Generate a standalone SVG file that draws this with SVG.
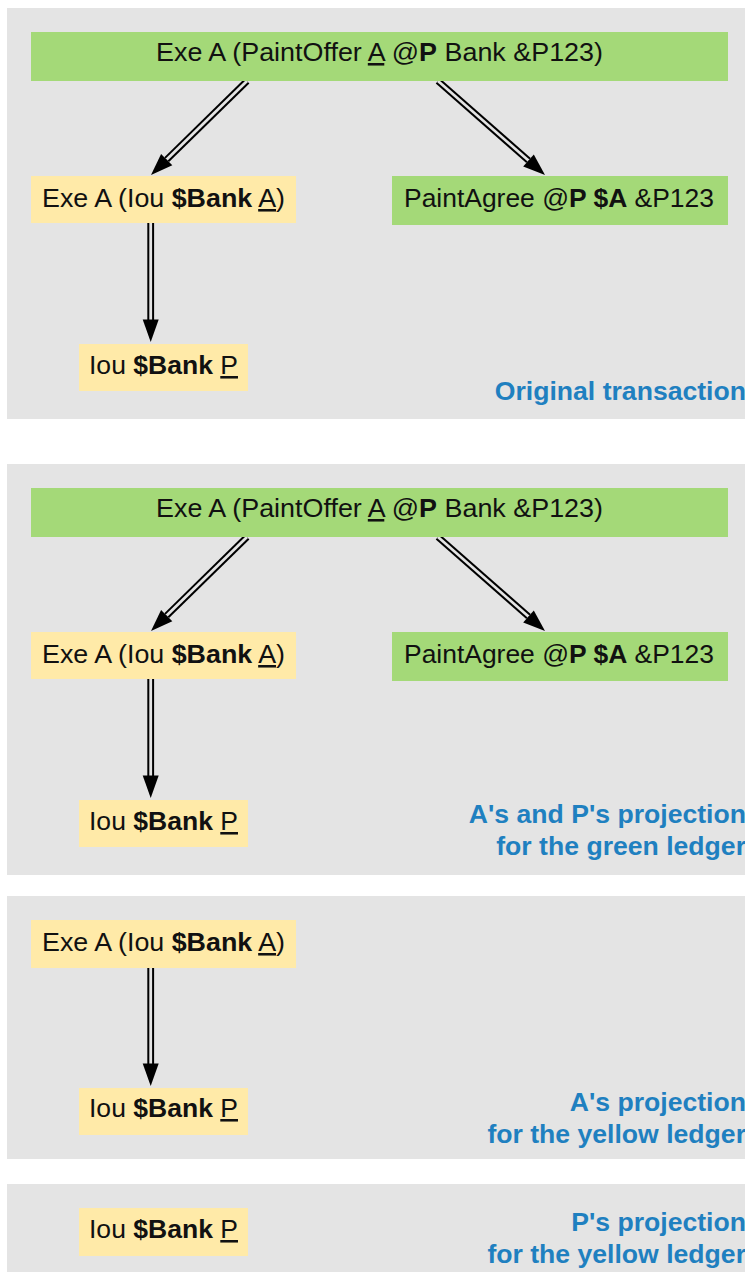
<svg xmlns="http://www.w3.org/2000/svg" width="745" height="1272" viewBox="0 0 745 1272">
<style>
.panel{fill:#e4e4e4}
.g{fill:#a4d978}
.y{fill:#ffeaa8}
.t{font-family:"Liberation Sans",Arial,sans-serif;font-size:25.5px;fill:#111}
.b{font-weight:bold}
.u{text-decoration:underline}
.lbl{font-family:"Liberation Sans",Arial,sans-serif;font-size:26.6px;font-weight:bold;fill:#1f80c0;text-anchor:end}
.o{stroke:#000;stroke-width:6.8;fill:none}
.i{stroke:#e4e4e4;stroke-width:2.8;fill:none}
.h{fill:#000}
</style>
<rect class="panel" x="7" y="8" width="738" height="411"/>
<rect class="panel" x="7" y="464" width="738" height="411"/>
<rect class="panel" x="7" y="896" width="738" height="263"/>
<rect class="panel" x="7" y="1184" width="738" height="88"/>

<g id="connectors">
  <g id="e1"><path class="o" d="M247,81 L166.7,159.6"/><path class="i" d="M247,81 L166.7,159.6"/><polygon class="h" points="151,175 172.3,165.3 161.1,153.9"/></g>
  <g id="e2"><path class="o" d="M438,81 L528.5,160.5"/><path class="i" d="M438,81 L528.5,160.5"/><polygon class="h" points="545,175 523.2,166.5 533.8,154.5"/></g>
  <g id="e3"><path class="o" d="M150.7,223 L150.7,320"/><path class="i" d="M150.7,223 L150.7,320"/><polygon class="h" points="150.7,342 142.7,319.5 158.7,319.5"/></g>
  <g id="e4"><path class="o" d="M247,537 L166.7,615.6"/><path class="i" d="M247,537 L166.7,615.6"/><polygon class="h" points="151,631 172.3,621.3 161.1,609.9"/></g>
  <g id="e5"><path class="o" d="M438,537 L528.5,616.5"/><path class="i" d="M438,537 L528.5,616.5"/><polygon class="h" points="545,631 523.2,622.5 533.8,610.5"/></g>
  <g id="e6"><path class="o" d="M150.7,679 L150.7,776"/><path class="i" d="M150.7,679 L150.7,776"/><polygon class="h" points="150.7,798 142.7,775.5 158.7,775.5"/></g>
  <g id="e7"><path class="o" d="M150.7,968 L150.7,1064"/><path class="i" d="M150.7,968 L150.7,1064"/><polygon class="h" points="150.7,1086 142.7,1063.5 158.7,1063.5"/></g>
</g>

<g id="p1-root"><rect class="g" x="31" y="32" width="697" height="49"/>
<text class="t" x="156" y="61" textLength="447" lengthAdjust="spacingAndGlyphs">Exe A (PaintOffer <tspan class="u">A</tspan> @<tspan class="b">P</tspan> Bank &amp;P123)</text></g>
<g id="p1-exe"><rect class="y" x="31" y="176" width="265" height="47"/>
<text class="t" x="42" y="207" textLength="243" lengthAdjust="spacingAndGlyphs">Exe A (Iou <tspan class="b">$Bank</tspan> <tspan class="u">A</tspan>)</text></g>
<g id="p1-agree"><rect class="g" x="392" y="176" width="336" height="49"/>
<text class="t" x="404" y="207" textLength="310" lengthAdjust="spacingAndGlyphs">PaintAgree @<tspan class="b">P $A</tspan> &amp;P123</text></g>
<g id="p1-iou"><rect class="y" x="79" y="344" width="169" height="47"/>
<text class="t" x="89" y="374" textLength="149" lengthAdjust="spacingAndGlyphs">Iou <tspan class="b">$Bank</tspan> <tspan class="u">P</tspan></text></g>
<text class="lbl" x="746" y="400">Original transaction</text>

<g id="p2-root"><rect class="g" x="31" y="488" width="697" height="49"/>
<text class="t" x="156" y="517" textLength="447" lengthAdjust="spacingAndGlyphs">Exe A (PaintOffer <tspan class="u">A</tspan> @<tspan class="b">P</tspan> Bank &amp;P123)</text></g>
<g id="p2-exe"><rect class="y" x="31" y="632" width="265" height="47"/>
<text class="t" x="42" y="663" textLength="243" lengthAdjust="spacingAndGlyphs">Exe A (Iou <tspan class="b">$Bank</tspan> <tspan class="u">A</tspan>)</text></g>
<g id="p2-agree"><rect class="g" x="392" y="632" width="336" height="49"/>
<text class="t" x="404" y="663" textLength="310" lengthAdjust="spacingAndGlyphs">PaintAgree @<tspan class="b">P $A</tspan> &amp;P123</text></g>
<g id="p2-iou"><rect class="y" x="79" y="800" width="169" height="47"/>
<text class="t" x="89" y="830" textLength="149" lengthAdjust="spacingAndGlyphs">Iou <tspan class="b">$Bank</tspan> <tspan class="u">P</tspan></text></g>
<text class="lbl" x="746" y="823">A's and P's projection</text>
<text class="lbl" x="746" y="855">for the green ledger</text>

<g id="p3-exe"><rect class="y" x="31" y="920" width="265" height="48"/>
<text class="t" x="42" y="951" textLength="243" lengthAdjust="spacingAndGlyphs">Exe A (Iou <tspan class="b">$Bank</tspan> <tspan class="u">A</tspan>)</text></g>
<g id="p3-iou"><rect class="y" x="79" y="1088" width="169" height="47"/>
<text class="t" x="89" y="1117" textLength="149" lengthAdjust="spacingAndGlyphs">Iou <tspan class="b">$Bank</tspan> <tspan class="u">P</tspan></text></g>
<text class="lbl" x="746" y="1111">A's projection</text>
<text class="lbl" x="746" y="1143">for the yellow ledger</text>

<g id="p4-iou"><rect class="y" x="79" y="1208" width="169" height="48"/>
<text class="t" x="89" y="1238" textLength="149" lengthAdjust="spacingAndGlyphs">Iou <tspan class="b">$Bank</tspan> <tspan class="u">P</tspan></text></g>
<text class="lbl" x="746" y="1231">P's projection</text>
<text class="lbl" x="746" y="1263">for the yellow ledger</text>
</svg>
